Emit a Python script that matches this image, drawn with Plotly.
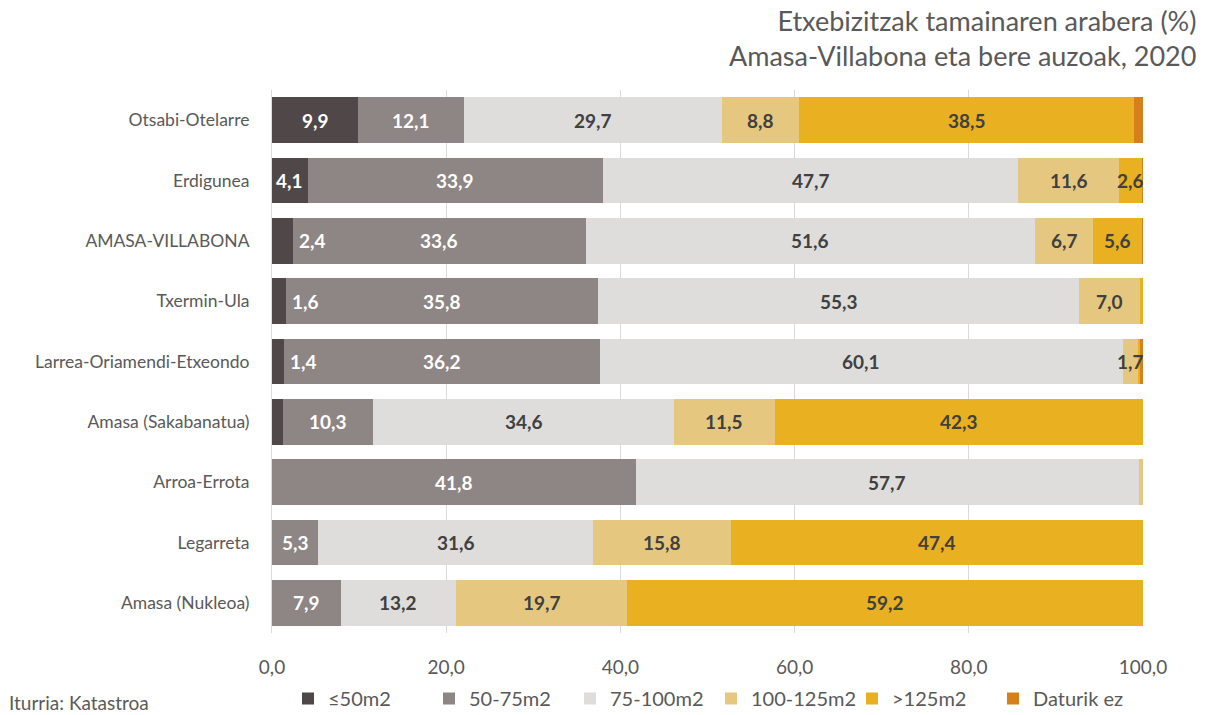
import plotly.graph_objects as go

# Neighbourhoods, top to bottom
categories = [
    "Otsabi-Otelarre",
    "Erdigunea",
    "AMASA-VILLABONA",
    "Txermin-Ula",
    "Larrea-Oriamendi-Etxeondo",
    "Amasa (Sakabanatua)",
    "Arroa-Errota",
    "Legarreta",
    "Amasa (Nukleoa)",
]

# Share of dwellings by floor area (%)
le50 = [9.9, 4.1, 2.4, 1.6, 1.4, 1.3, 0.0, 0.0, 0.0]
m50_75 = [12.1, 33.9, 33.6, 35.8, 36.2, 10.3, 41.8, 5.3, 7.9]
m75_100 = [29.7, 47.7, 51.6, 55.3, 60.1, 34.6, 57.7, 31.6, 13.2]
m100_125 = [8.8, 11.6, 6.7, 7.0, 1.7, 11.5, 0.5, 15.8, 19.7]
gt125 = [38.5, 2.6, 5.6, 0.3, 0.3, 42.3, 0.0, 47.4, 59.2]
no_data = [1.0, 0.1, 0.1, 0.0, 0.3, 0.0, 0.0, 0.0, 0.0]

series_names = ["≤50m2", "50-75m2", "75-100m2", "100-125m2", ">125m2", "Daturik ez"]
series_values = [le50, m50_75, m75_100, m100_125, gt125, no_data]
series_colors = ["#4F4748", "#8E8585", "#DEDDDB", "#E6C77F", "#E9B021", "#D5801A"]
label_colors = ["white", "white", "#404040", "#404040", "#404040", "#404040"]

x_ticks = [0, 20, 40, 60, 80, 100]

FONT = "Lato"
GREY = "#595959"

# plot area in pixels
L, R, T, B = 272, 62, 90, 82
W, H = 1205, 715
PW, PH = W - L - R, H - T - B

fig = go.Figure()
for name, vals, col in zip(series_names, series_values, series_colors):
    fig.add_trace(go.Bar(
        y=categories, x=vals, name=name, orientation="h",
        marker=dict(color=col, line=dict(width=0)),
        hoverinfo="x+name",
    ))

# Value labels on the segments (small slivers stay unlabelled)
annotations = []
base = [0.0] * len(categories)
for si, (vals, lc) in enumerate(zip(series_values, label_colors)):
    for ci, v in enumerate(vals):
        if v >= 1.35:
            txt = f"<b>{v:.1f}</b>".replace(".", ",")
            if si == 0 and v < 3:
                ann = dict(x=base[ci] + v, xanchor="left", xshift=4)
            else:
                ann = dict(x=base[ci] + v / 2, xanchor="center")
            ann.update(y=categories[ci], xref="x", yref="y", text=txt,
                       showarrow=False, font=dict(family=FONT, size=19, color=lc))
            annotations.append(ann)
        base[ci] += v

# Title, right aligned at the top
annotations.append(dict(
    text="Etxebizitzak tamainaren arabera (%)<br>Amasa-Villabona eta bere auzoak, 2020",
    xref="paper", yref="paper", x=(1198 - L) / PW, y=(H - B - 2) / PH,
    xanchor="right", yanchor="top", align="right", showarrow=False,
    font=dict(family=FONT, size=27, color=GREY),
))

# Source note, bottom left
annotations.append(dict(
    text="Iturria: Katastroa", xref="paper", yref="paper",
    x=(7 - L) / PW, y=-(702 - (H - B)) / PH, xanchor="left", yanchor="middle",
    showarrow=False, font=dict(family=FONT, size=19, color=GREY),
))

fig.update_layout(
    width=W, height=H,
    margin=dict(l=L, r=R, t=T, b=B, autoexpand=False),
    paper_bgcolor="white", plot_bgcolor="white",
    separators=",.",
    barmode="stack", bargap=0.24,
    font=dict(family=FONT, color=GREY),
    xaxis=dict(
        range=[0, 100], tickvals=x_ticks, tickformat=".1f",
        showgrid=True, gridcolor="#D9D9D9", gridwidth=1,
        zeroline=False, showline=False,
        tickfont=dict(family=FONT, size=19, color=GREY),
        ticks="outside", ticklen=17, tickcolor="rgba(0,0,0,0)",
        fixedrange=True,
    ),
    yaxis=dict(
        categoryorder="array", categoryarray=categories, autorange="reversed",
        showline=True, linecolor="#D9D9D9", linewidth=1,
        showgrid=False, zeroline=False,
        ticks="outside", ticklen=18, tickcolor="rgba(0,0,0,0)",
        tickfont=dict(family=FONT, size=17.5, color=GREY),
        fixedrange=True,
    ),
    legend=dict(
        orientation="h", xref="container", yref="container",
        x=288 / W, xanchor="left", y=1 - 679 / H, yanchor="top",
        font=dict(family=FONT, size=20, color=GREY),
        entrywidth=96, itemwidth=30, traceorder="normal",
    ),
    annotations=annotations,
    showlegend=True,
)

fig.write_html("out.html")
